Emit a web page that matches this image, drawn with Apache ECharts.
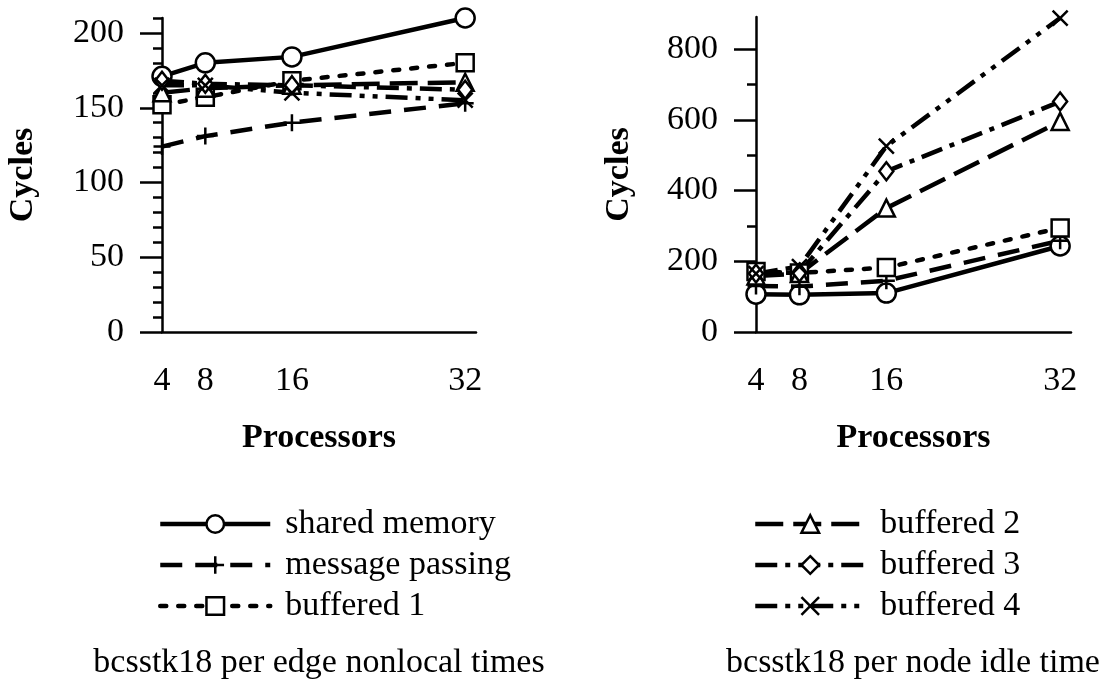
<!DOCTYPE html>
<html lang="en">
<head>
<meta charset="UTF-8">
<script src="https://cdn.jsdelivr.net/npm/echarts@6/dist/echarts.min.js"></script>
<style>
  html, body { margin: 0; background: #fff; }
  #chart { width: 1109px; height: 690px; }
</style>
</head>
<body>
<div id="chart"></div>
<script>
// processors on the x axis
var procs = [4, 8, 16, 32];
var xLabels = [4, 8, 16, 32];
var seriesNames = ['shared memory', 'message passing', 'buffered 1', 'buffered 2', 'buffered 3', 'buffered 4'];

// left: bcsstk18 per edge nonlocal times
var edgeShared  = [171, 180, 184, 210];
var edgeMessage = [124, 131, 140, 153];
var edgeBuf1    = [152, 157, 168, 180];
var edgeBuf2    = [160, 163, 165, 167];
var edgeBuf3    = [168, 166, 165, 162];
var edgeBuf4    = [165, 165, 160, 155];
var edgeTicks   = [0, 50, 100, 150, 200];

// right: bcsstk18 per node idle time
var idleShared  = [107, 105, 110, 243];
var idleMessage = [130, 128, 145, 258];
var idleBuf1    = [171, 167, 182, 294];
var idleBuf2    = [158, 165, 350, 595];
var idleBuf3    = [165, 168, 454, 651];
var idleBuf4    = [165, 185, 525, 887];
var idleTicks   = [0, 200, 400, 600, 800];

var FONT = '"Liberation Serif", "Times New Roman", serif';

var looks = [
    { symbol: 'circle', size: 19, dash: 'solid', cap: 'butt' },
    { symbol: 'path://M5,0L5,10M0,5L10,5', size: 17, dash: [22, 13], cap: 'butt' },
    { symbol: 'rect', size: 17, dash: [6, 12], cap: 'round' },
    { symbol: 'triangle', size: 17, dash: [28, 10], cap: 'butt' },
    { symbol: 'diamond', size: [14, 18], dash: [22, 8, 5, 8], cap: 'butt' },
    { symbol: 'path://M0,0L10,10M10,0L0,10', size: 15, dash: [22, 8, 5, 8, 5, 8], cap: 'butt' }
];

function makeSeries(i, values, axis) {
    var look = looks[i];
    return {
        name: seriesNames[i],
        type: 'line',
        xAxisIndex: axis,
        yAxisIndex: axis,
        data: procs.map(function (p, k) { return [p, values[k]]; }),
        symbol: look.symbol,
        symbolSize: look.size,
        showSymbol: true,
        animation: false,
        silent: true,
        lineStyle: { color: '#000', width: 4.5, type: look.dash, cap: look.cap },
        itemStyle: { color: '#fff', borderColor: '#000', borderWidth: 2.5 },
        emphasis: { disabled: true }
    };
}

function xAxisFor(grid, visible) {
    return {
        gridIndex: grid,
        type: 'value',
        min: 4, max: 33, interval: 4,
        show: visible,
        axisLine: { lineStyle: { color: '#000', width: 2.5 } },
        axisTick: { show: false },
        splitLine: { show: false },
        axisLabel: {
            color: '#000', fontFamily: FONT, fontSize: 34, margin: 32,
            formatter: function (v) { return xLabels.indexOf(v) >= 0 ? String(v) : ''; }
        },
        name: visible ? 'Processors' : '',
        nameLocation: 'middle',
        nameGap: 89,
        nameTextStyle: { color: '#000', fontFamily: FONT, fontSize: 34, fontWeight: 'bold' }
    };
}

var edgeStep = edgeTicks[1] - edgeTicks[0];
var idleStep = idleTicks[1] - idleTicks[0];
var edgeTop = Math.max.apply(null, edgeShared);
var idleTop = Math.max.apply(null, idleBuf4) + 3;

var axisName = { color: '#000', fontFamily: FONT, fontSize: 34, fontWeight: 'bold' };
var tickLabel = { color: '#000', fontFamily: FONT, fontSize: 34, margin: 38 };

function legendFor(left, names) {
    return {
        orient: 'vertical', left: left, top: 502,
        data: names,
        itemWidth: 110, itemHeight: 22, itemGap: 7,
        selectedMode: false,
        lineStyle: { width: 4.5 },
        itemStyle: { borderWidth: 2.5 },
        textStyle: { color: '#000', fontFamily: FONT, fontSize: 34, padding: [0, 0, 0, 10] }
    };
}

var option = {
    backgroundColor: '#fff',
    animation: false,
    grid: [
        { left: 162, top: 18, width: 314, height: 314, outerBoundsMode: 'none' },
        { left: 162, top: 33, width: 314, height: 299, outerBoundsMode: 'none' },
        { left: 756, top: 17, width: 315, height: 315, outerBoundsMode: 'none' },
        { left: 756, top: 49, width: 315, height: 283, outerBoundsMode: 'none' }
    ],
    xAxis: [xAxisFor(0, true), xAxisFor(1, false), xAxisFor(2, true), xAxisFor(3, false)],
    yAxis: [
        {
            gridIndex: 0, type: 'value', min: 0, max: edgeTop, interval: 10,
            axisLine: { show: true, lineStyle: { color: '#000', width: 2.5 } },
            axisTick: { show: true, length: 9, lineStyle: { color: '#000', width: 2.5 } },
            axisLabel: { show: false },
            splitLine: { show: false },
            name: 'Cycles', nameLocation: 'middle', nameGap: 122, nameTextStyle: axisName
        },
        {
            gridIndex: 1, type: 'value', min: edgeTicks[0], max: edgeTicks[edgeTicks.length - 1], interval: edgeStep,
            axisLine: { show: false },
            axisTick: { show: true, length: 22, lineStyle: { color: '#000', width: 2.5 } },
            axisLabel: tickLabel,
            splitLine: { show: false }
        },
        {
            gridIndex: 2, type: 'value', min: 0, max: idleTop,
            axisLine: { show: true, lineStyle: { color: '#000', width: 2.5 } },
            axisTick: { show: false },
            axisLabel: { show: false },
            splitLine: { show: false },
            name: 'Cycles', nameLocation: 'middle', nameGap: 120, nameTextStyle: axisName
        },
        {
            gridIndex: 3, type: 'value', min: idleTicks[0], max: idleTicks[idleTicks.length - 1], interval: idleStep,
            axisLine: { show: false },
            axisTick: { show: true, length: 22, lineStyle: { color: '#000', width: 2.5 } },
            minorTick: { show: true, splitNumber: 2, length: 9, lineStyle: { color: '#000', width: 2.5 } },
            axisLabel: tickLabel,
            splitLine: { show: false }
        }
    ],
    legend: [legendFor(153, seriesNames.slice(0, 3)), legendFor(748, seriesNames.slice(3))],
    graphic: [
        { type: 'text', x: 319, y: 663, style: { text: 'bcsstk18 per edge nonlocal times', fill: '#000', font: '34px ' + FONT, align: 'center', verticalAlign: 'middle' } },
        { type: 'text', x: 913, y: 663, style: { text: 'bcsstk18 per node idle time', fill: '#000', font: '34px ' + FONT, align: 'center', verticalAlign: 'middle' } }
    ],
    series: [
        makeSeries(0, edgeShared, 0),
        makeSeries(1, edgeMessage, 0),
        makeSeries(2, edgeBuf1, 0),
        makeSeries(3, edgeBuf2, 0),
        makeSeries(4, edgeBuf3, 0),
        makeSeries(5, edgeBuf4, 0),
        makeSeries(0, idleShared, 2),
        makeSeries(1, idleMessage, 2),
        makeSeries(2, idleBuf1, 2),
        makeSeries(3, idleBuf2, 2),
        makeSeries(4, idleBuf3, 2),
        makeSeries(5, idleBuf4, 2)
    ]
};

var chart = echarts.init(document.getElementById('chart'));
chart.setOption(option);
</script>
</body>
</html>
